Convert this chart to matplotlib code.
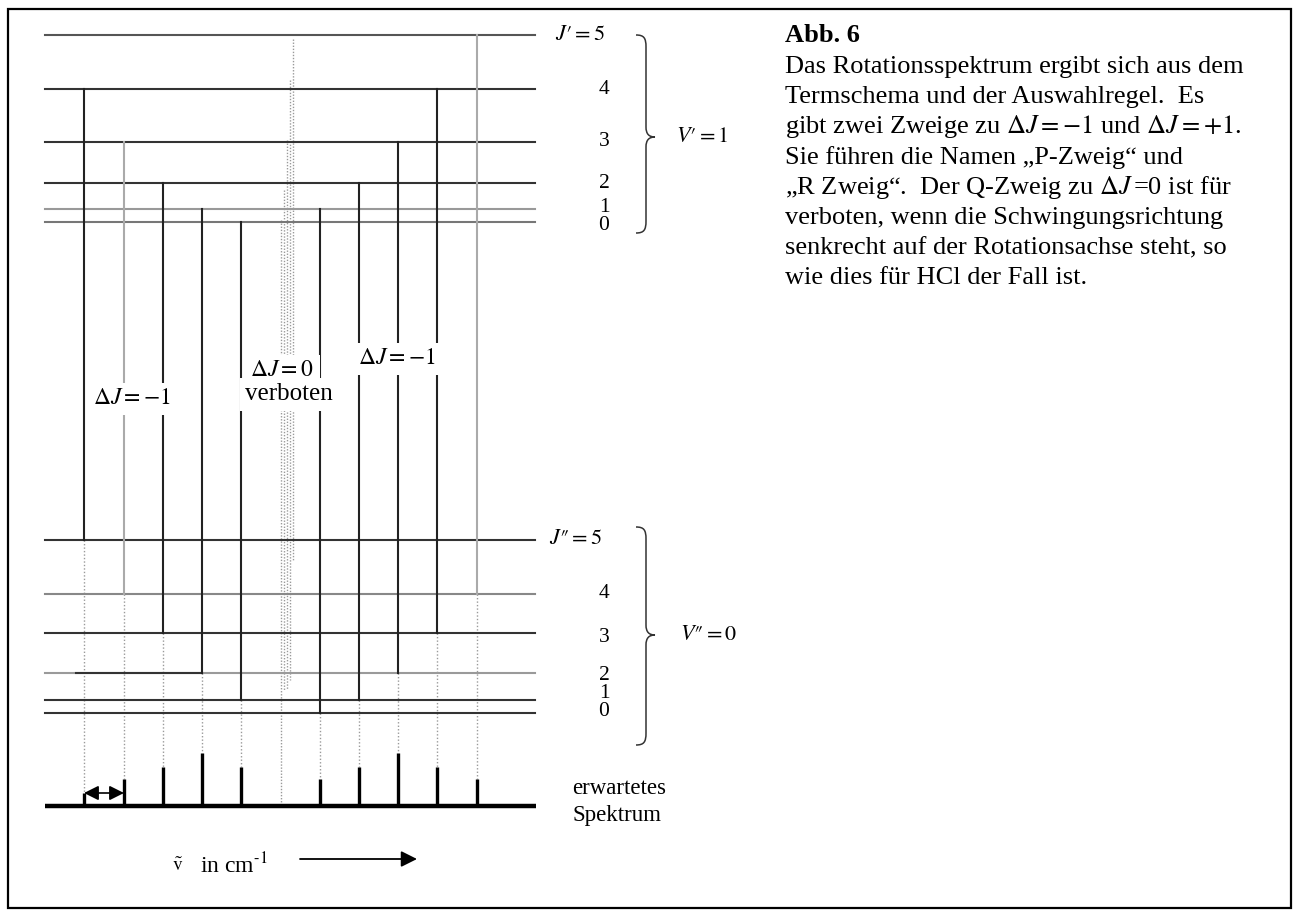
import matplotlib.pyplot as plt
from matplotlib.path import Path
from matplotlib.patches import PathPatch, Rectangle

plt.rcParams['font.family'] = ['Liberation Serif', 'DejaVu Serif']
plt.rcParams['mathtext.fontset'] = 'stix'

J = [0, 1, 2, 3, 4, 5]
upper_y = [222, 209, 183, 142, 89, 35]     # V' = 1
lower_y = [713, 700, 673, 633, 594, 540]   # V'' = 0
upper_col = ['#777777', '#999999', '#333333', '#333333', '#333333', '#555555']
lower_col = ['#333333', '#333333', '#9a9a9a', '#333333', '#888888', '#333333']

# Uebergaenge = Linien im Spektrum
line_x = [84, 124, 163, 202, 241, 320, 359, 398, 437, 477]
j_up = [4, 3, 2, 1, 0, 1, 2, 3, 4, 5]
j_low = [5, 4, 3, 2, 1, 0, 1, 2, 3, 4]
grey_line = [False, True, False, False, False, False, False, False, False, True]
intensity = [13, 27, 39, 53, 39, 27, 39, 53, 39, 27]

# verbotener Q-Zweig (punktiertes Band)
q_x = [293, 290, 287, 284, 281]
q_top = [39, 80, 140, 190, 220]
q_bottom = [560, 680, 690, 690, 802]

level_x0, level_x1 = 45, 535
base_y = 806

text_lines = [
    "Das Rotationsspektrum ergibt sich aus dem",
    "Termschema und der Auswahlregel.  Es",
    r"gibt zwei Zweige zu $\Delta J = -1$ und $\Delta J = +1$.",
    "Sie führen die Namen „P-Zweig“ und",
    r"„R Zweig“.  Der Q-Zweig zu $\Delta J\,$=0 ist für",
    "verboten, wenn die Schwingungsrichtung",
    "senkrecht auf der Rotationsachse steht, so",
    "wie dies für HCl der Fall ist.",
]


def brace(ax, y0, y1, ytip, xl=636, xm=646, xt=655):
    verts = [(xl, y0), (xm - 2, y0), (xm, y0 + 3), (xm, y0 + 12),
             (xm, ytip - 10),
             (xm, ytip - 3), (xm + 3, ytip), (xt, ytip),
             (xm + 3, ytip), (xm, ytip + 3), (xm, ytip + 10),
             (xm, y1 - 12),
             (xm, y1 - 3), (xm - 2, y1), (xl, y1)]
    codes = [Path.MOVETO, Path.CURVE4, Path.CURVE4, Path.CURVE4,
             Path.LINETO,
             Path.CURVE4, Path.CURVE4, Path.CURVE4,
             Path.CURVE4, Path.CURVE4, Path.CURVE4,
             Path.LINETO,
             Path.CURVE4, Path.CURVE4, Path.CURVE4]
    ax.add_patch(PathPatch(Path(verts, codes), fill=False, lw=1.1, color='#333333'))


fig = plt.figure(figsize=(12.95, 9.11), dpi=100)
ax = fig.add_axes([0, 0, 1, 1])
ax.set_xlim(0, 1295)
ax.set_ylim(911, 0)
ax.axis('off')

ax.add_patch(Rectangle((8, 9), 1283, 899, fill=False, lw=1.6, color='black'))

# Niveaus
for y, c in zip(upper_y, upper_col):
    ax.plot([level_x0, level_x1], [y, y], color=c, lw=1.5, zorder=2)
for y, c in zip(lower_y, lower_col):
    ax.plot([level_x0, level_x1], [y, y], color=c, lw=1.5, zorder=2)
ax.plot([76, 202], [lower_y[2], lower_y[2]], color='#333333', lw=1.5, zorder=2)

# Q-Band
for x, t, b in zip(q_x, q_top, q_bottom):
    ax.plot([x, x], [t, b], color='#9a9a9a', lw=1.0, ls=(0, (1, 1.2)), zorder=1)

# Uebergaenge
for x, ju, jl, g, h in zip(line_x, j_up, j_low, grey_line, intensity):
    yu = upper_y[J.index(ju)]
    yl = lower_y[J.index(jl)]
    ax.plot([x, x], [yu, yl], color='#aaaaaa' if g else '#222222', lw=1.5, zorder=3)
    ax.plot([x, x], [yl, base_y - h], color='#9a9a9a', lw=1.0, ls=(0, (1, 1.5)), zorder=1)
    ax.plot([x, x], [base_y, base_y - h], color='black', lw=2.4,
            solid_capstyle='butt', zorder=4)

# Spektrum-Grundlinie
ax.plot([level_x0, level_x1 + 1], [base_y, base_y], color='black', lw=3.2,
        solid_capstyle='butt', zorder=5)

# Doppelpfeil Linienabstand
ax.annotate('', xy=(line_x[1], base_y - intensity[0]), xytext=(line_x[0], base_y - intensity[0]),
            arrowprops=dict(arrowstyle='<|-|>', color='black', lw=1.2,
                            mutation_scale=22, shrinkA=0, shrinkB=0), zorder=6)

# Beschriftungen im Schema
wb = dict(facecolor='white', edgecolor='none', pad=4)
ax.text(132, 399, r'$\Delta J = -1$', fontsize=17, ha='center', va='center', bbox=wb, zorder=7)
ax.text(282, 371, r'$\Delta J = 0$', fontsize=17, ha='center', va='center', bbox=wb, zorder=7)
ax.text(289, 394, 'verboten', fontsize=18, ha='center', va='center', bbox=wb, zorder=7)
ax.text(397, 359, r'$\Delta J = -1$', fontsize=17, ha='center', va='center', bbox=wb, zorder=7)

# J-Beschriftungen
ax.text(555, upper_y[5], r"$J\prime = 5$", fontsize=16, ha='left', va='center')
ax.text(549, lower_y[5], "$J\u2033 = 5$", fontsize=16, ha='left', va='center')
up_lab_y = [225, 208, 183, 142, 89]
low_lab_y = [711, 694, 675, 637, 593]
for j, y in zip(J[:5], up_lab_y):
    ax.text(604, y, str(j), fontsize=15.5, ha='center', va='center')
for j, y in zip(J[:5], low_lab_y):
    ax.text(604, y, str(j), fontsize=15.5, ha='center', va='center')

brace(ax, 35, 233, 137)
brace(ax, 527, 745, 635)
ax.text(676, 137, r"$V\prime = 1$", fontsize=16, ha='left', va='center')
ax.text(680, 635, "$V\u2033 = 0$", fontsize=16, ha='left', va='center')

ax.text(572, 789, 'erwartetes', fontsize=16.5, ha='left', va='center')
ax.text(572, 816, 'Spektrum', fontsize=16.5, ha='left', va='center')

ax.text(178, 866, r'$\tilde{\mathrm{v}}$', fontsize=14, ha='center', va='center')
ax.text(200, 866, r'in cm$^{\text{-}1}$', fontsize=17, ha='left', va='center')
ax.annotate('', xy=(417, 859), xytext=(300, 859),
            arrowprops=dict(arrowstyle='-|>', color='black', lw=1.3,
                            mutation_scale=24, shrinkA=0, shrinkB=0))

# Bildunterschrift
ax.text(785, 42, 'Abb. 6', fontsize=19, fontweight='bold', ha='left', va='baseline')
for i, s in enumerate(text_lines):
    ax.text(785, 73 + 30.2 * i, s, fontsize=19, ha='left', va='baseline')

fig.savefig('out.png', dpi=100)
